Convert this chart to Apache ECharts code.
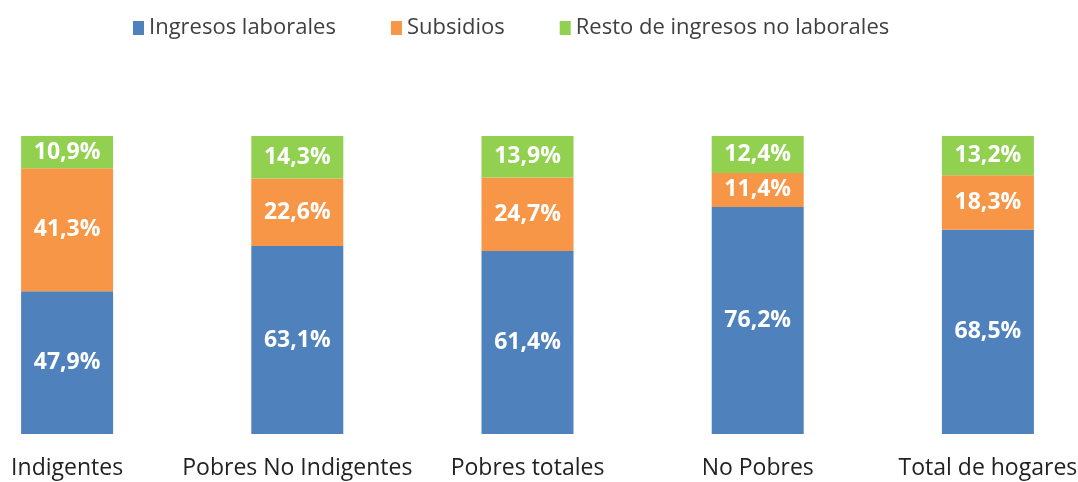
<!DOCTYPE html>
<html lang="es">
<head>
    <meta http-equiv="Content-Type" content="text/html; charset=UTF-8">
    <title>Composición del ingreso</title>
    <script type="text/javascript" src="https://cdn.jsdelivr.net/npm/echarts@6/dist/echarts.min.js"></script>
    <style>
        body { margin: 0; background: #fff; overflow: hidden; }
    </style>
</head>
<body>
<!-- el div es más ancho que la ventana para que las barras queden donde en el original -->
<div id="main" style="width:1151px;height:482px;margin-left:-48px"></div>
<script type="text/javascript">
    var categories = ['Indigentes', 'Pobres No Indigentes', 'Pobres totales', 'No Pobres', 'Total de hogares'];
    var seriesNames = ['Ingresos laborales', 'Subsidios', 'Resto de ingresos no laborales'];
    var laborales = [47.9, 63.1, 61.4, 76.2, 68.5];
    var subsidios = [41.3, 22.6, 24.7, 11.4, 18.3];
    var resto = [10.9, 14.3, 13.9, 12.4, 13.2];
    var colors = ['#4F81BD', '#F79646', '#92D050'];

    var font = '"Open Sans", "Noto Sans", sans-serif';

    function pct(p) {
        return p.value.toFixed(1).replace('.', ',') + '%';
    }

    function makeSeries(name, data, color) {
        return {
            name: name,
            type: 'bar',
            stack: 'total',
            barWidth: 92,
            data: data,
            itemStyle: { color: color },
            label: {
                show: true,
                position: 'inside',
                formatter: pct,
                color: '#fff',
                fontFamily: font,
                fontWeight: 'bold',
                fontSize: 23
            }
        };
    }

    var myChart = echarts.init(document.getElementById('main'));
    myChart.setOption({
        animation: false,
        color: colors,
        legend: {
            data: seriesNames,
            top: 12,
            left: 176,
            itemWidth: 11,
            itemHeight: 14,
            itemGap: 55,
            icon: 'rect',
            textStyle: { fontFamily: font, fontSize: 22, color: '#404040' }
        },
        grid: { left: 0, right: 0, top: 136, bottom: 48, containLabel: false },
        xAxis: {
            type: 'category',
            data: categories,
            axisLine: { show: false },
            axisTick: { show: false },
            axisLabel: { interval: 0, margin: 23, fontFamily: font, fontSize: 23, color: '#222' }
        },
        yAxis: {
            type: 'value',
            min: 0,
            max: 100,
            show: false,
            splitLine: { show: false }
        },
        series: [
            makeSeries(seriesNames[0], laborales, colors[0]),
            makeSeries(seriesNames[1], subsidios, colors[1]),
            makeSeries(seriesNames[2], resto, colors[2])
        ]
    });
</script>
</body>
</html>
